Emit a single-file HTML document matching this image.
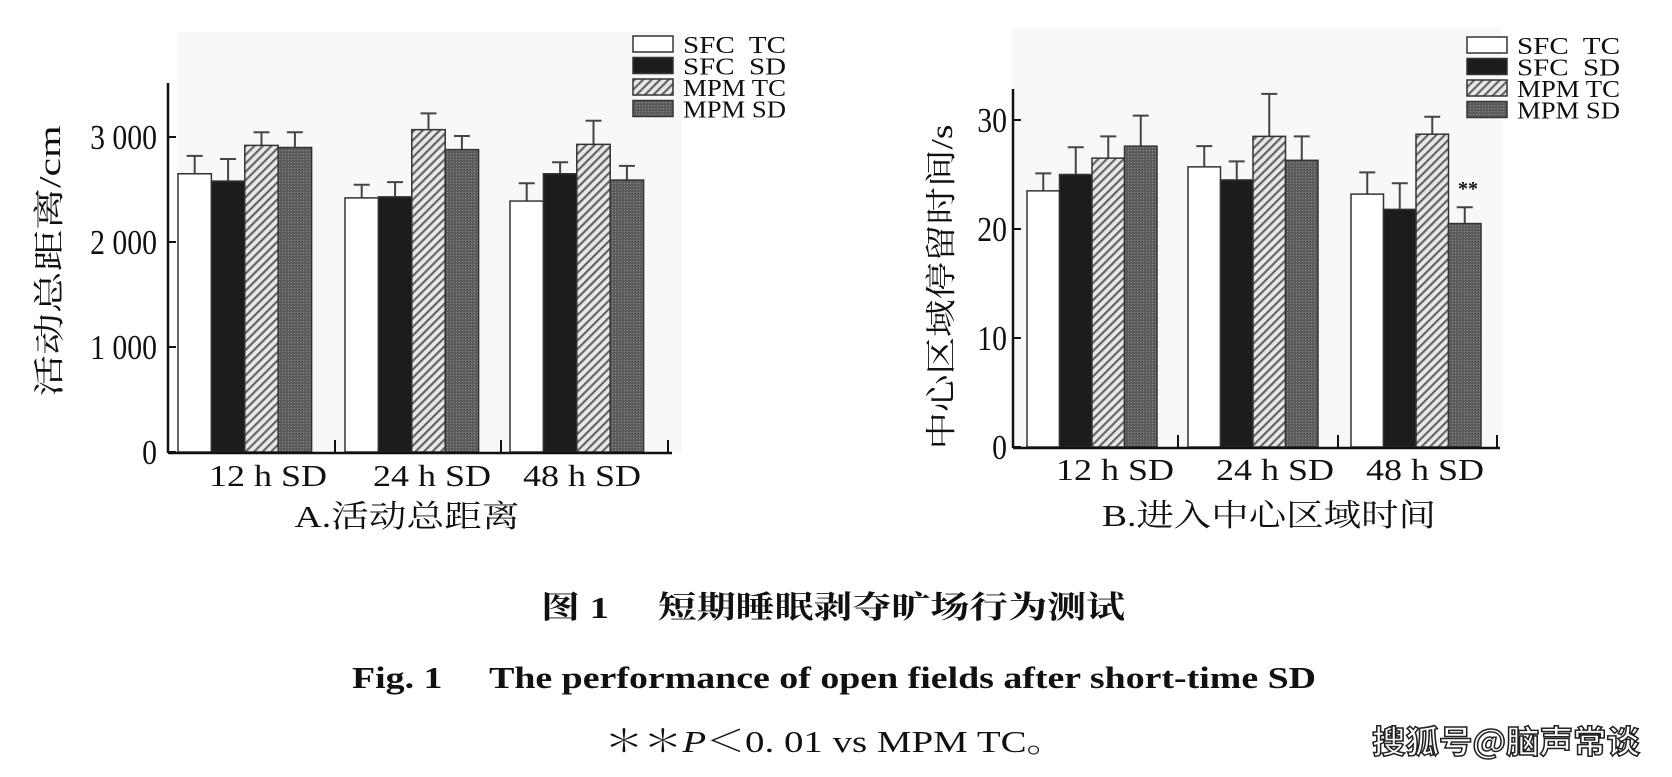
<!DOCTYPE html>
<html><head><meta charset="utf-8"><style>
html,body{margin:0;padding:0;background:#fff;}
svg{display:block;}
text{font-family:"Liberation Serif","Noto Serif CJK SC",serif;fill:#111;}
</style></head><body>
<svg id="s" width="1672" height="777" viewBox="0 0 1672 777" xmlns="http://www.w3.org/2000/svg">
<defs>
<pattern id="hatch" patternUnits="userSpaceOnUse" width="6" height="6" patternTransform="rotate(45)">
<rect width="6" height="6" fill="#e8e8e8"/><rect width="2.2" height="6" fill="#666"/>
</pattern>
<pattern id="dots" patternUnits="userSpaceOnUse" width="3" height="3">
<rect width="3" height="3" fill="#5a5a5a"/><rect width="1.2" height="1.2" fill="#8a8a8a"/>
</pattern>
</defs>
<rect x="177" y="32" width="505" height="420" fill="#f8f8f8"/>
<rect x="1012" y="28" width="490" height="419" fill="#f8f8f8"/>
<g id="g"></g>
<text x="833" y="618" font-size="31" font-weight="bold" text-anchor="middle" textLength="584" lengthAdjust="spacingAndGlyphs">图 1　 短期睡眠剥夺旷场行为测试</text>
<text x="834" y="688" font-size="31" font-weight="bold" text-anchor="middle" textLength="964" lengthAdjust="spacingAndGlyphs">Fig. 1　 The performance of open fields after short-time SD</text>
<text x="835" y="752" font-size="31" text-anchor="middle" textLength="461" lengthAdjust="spacingAndGlyphs">＊＊<tspan font-style="italic">P</tspan>＜0. 01 vs MPM TC。</text>
<text x="1506" y="753" font-size="32" font-weight="bold" text-anchor="middle" style="font-family:'Noto Sans CJK SC',sans-serif;fill:#fff;stroke:#222;stroke-width:1.5px;" textLength="268" lengthAdjust="spacingAndGlyphs">搜狐号@脑声常谈</text>
</svg>
<script>
var g=document.getElementById('g'),h='';
var fills=['#fff','#1c1c1c','url(#hatch)','url(#dots)'];
function chart(o){
  var y=function(v){return o.y0-v*o.k;};
  o.groups.forEach(function(gr,gi){
    gr.forEach(function(b,bi){
      var x=o.gx[gi]+bi*o.bw, yt=y(b[0]), ye=y(b[1]), cx=x+o.bw/2;
      h+='<line x1="'+cx+'" y1="'+yt+'" x2="'+cx+'" y2="'+ye+'" stroke="#444" stroke-width="2"/>';
      h+='<line x1="'+(cx-8)+'" y1="'+ye+'" x2="'+(cx+8)+'" y2="'+ye+'" stroke="#444" stroke-width="2"/>';
      h+='<rect x="'+x+'" y="'+yt+'" width="'+o.bw+'" height="'+(o.y0-yt)+'" fill="'+fills[bi]+'" stroke="#333" stroke-width="1.5"/>';
    });
  });
  h+='<line x1="'+o.ax+'" y1="'+o.top+'" x2="'+o.ax+'" y2="'+(o.y0+1)+'" stroke="#111" stroke-width="2.5"/>';
  h+='<line x1="'+o.ax+'" y1="'+(o.y0+1)+'" x2="'+o.xend+'" y2="'+(o.y0+1)+'" stroke="#111" stroke-width="2.5"/>';
  o.ticksX.forEach(function(t){h+='<line x1="'+t+'" y1="'+(o.y0+1)+'" x2="'+t+'" y2="'+(o.y0-12)+'" stroke="#111" stroke-width="2"/>';});
  o.ticksY.forEach(function(t){var yy=y(t[0]);
    h+='<line x1="'+o.ax+'" y1="'+yy+'" x2="'+(o.ax+8)+'" y2="'+yy+'" stroke="#111" stroke-width="2"/>';
    h+='<text x="'+o.tr+'" y="'+(yy+12)+'" font-size="35" text-anchor="end" transform="translate('+o.tr+' 0) scale(0.85 1) translate('+(-o.tr)+' 0)">'+t[1]+'</text>';});
  o.xl.forEach(function(t){h+='<text x="'+t[0]+'" y="'+o.xly+'" font-size="31" textLength="118" lengthAdjust="spacingAndGlyphs">'+t[1]+'</text>';});
  h+='<text x="'+o.title[0]+'" y="'+o.title[2]+'" font-size="31" text-anchor="middle" textLength="'+o.title[3]+'" lengthAdjust="spacingAndGlyphs">'+o.title[1]+'</text>';
  h+='<text transform="translate('+o.yl[0]+' '+o.yl[1]+') rotate(-90)" font-size="31" text-anchor="middle" textLength="'+o.yl[3]+'" lengthAdjust="spacingAndGlyphs">'+o.yl[2]+'</text>';
  var names=['SFC  TC','SFC  SD','MPM TC','MPM SD'];
  for(var i=0;i<4;i++){var ly=o.leg[1]+i*21.5;
    h+='<rect x="'+o.leg[0]+'" y="'+ly+'" width="40" height="16" fill="'+fills[i]+'" stroke="#333" stroke-width="1.5"/>';
    h+='<text x="'+(o.leg[0]+50)+'" y="'+(ly+17)+'" font-size="24" textLength="103" lengthAdjust="spacingAndGlyphs" xml:space="preserve">'+names[i]+'</text>';}
}
chart({y0:452,k:0.105,ax:168,top:83,xend:672,bw:33.4,gx:[178,345,510],ticksX:[335,501,668],tr:157,
 ticksY:[[0,'0'],[1000,'1 000'],[2000,'2 000'],[3000,'3 000']],
 groups:[[[2650,2820],[2580,2790],[2920,3045],[2900,3045]],[[2420,2545],[2430,2570],[3070,3225],[2880,3010]],[[2390,2560],[2650,2760],[2930,3155],[2590,2725]]],
 xly:486,xl:[[209,'12 h SD'],[373,'24 h SD'],[523,'48 h SD']],title:[407,'A.活动总距离',527,225],yl:[60,261,'活动总距离/cm',271],leg:[633,36]});
chart({y0:447,k:10.9,ax:1013,top:89,xend:1500,bw:32.5,gx:[1027,1188,1351],ticksX:[1178,1338,1497],tr:1007,
 ticksY:[[0,'0'],[10,'10'],[20,'20'],[30,'30']],
 groups:[[[23.5,25.1],[25,27.5],[26.5,28.5],[27.6,30.4]],[[25.7,27.6],[24.5,26.2],[28.5,32.4],[26.3,28.5]],[[23.2,25.2],[21.8,24.2],[28.7,30.3],[20.5,22]]],
 xly:480,xl:[[1056,'12 h SD'],[1216,'24 h SD'],[1366,'48 h SD']],title:[1269,'B.进入中心区域时间',526,334],yl:[952,287,'中心区域停留时间/s',325],leg:[1467,37]});
h+='<text x="1468" y="195" font-size="20" font-weight="bold" text-anchor="middle">**</text>';
g.innerHTML=h;
</script>
</body></html>
